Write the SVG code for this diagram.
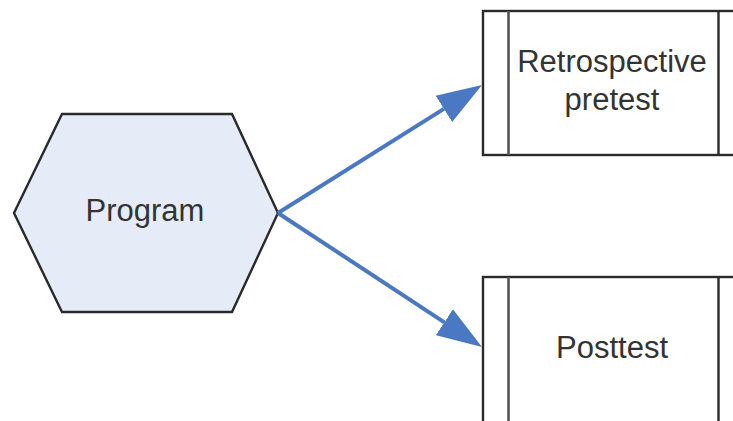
<svg xmlns="http://www.w3.org/2000/svg" width="733" height="421" viewBox="0 0 733 421">
  <style>
    .shape { stroke: #2a2a2a; stroke-width: 2.4; }
    .hex { fill: #e6ecf7; }
    .box { fill: #ffffff; }
    .rule { stroke: #555555; stroke-width: 2.6; }
    .label { font-family: "Liberation Sans", Arial, sans-serif; font-size: 31px; fill: #333333; text-anchor: middle; }
    .conn { stroke: #4a78c2; stroke-width: 4; fill: none; }
  </style>
  <defs>
    <marker id="head" markerUnits="userSpaceOnUse" markerWidth="46" markerHeight="32" viewBox="0 -16 46 32" refX="0" refY="0" orient="auto">
      <path d="M0,-15.5 L45,0 L0,15.5 z" fill="#4a78c2"/>
    </marker>
  </defs>
  <rect width="733" height="421" fill="#ffffff"/>

  <g id="program">
    <polygon class="shape hex" points="62,114 232,114 278,213 232,312 62,312 14,213"/>
    <text class="label" x="145" y="221">Program</text>
  </g>

  <g id="retrospective-pretest">
    <rect class="shape box" x="483" y="11" width="262" height="144"/>
    <line class="rule" x1="508.5" y1="11" x2="508.5" y2="155"/>
    <line class="shape" x1="718.5" y1="11" x2="718.5" y2="155"/>
    <text class="label" x="612" y="72">Retrospective</text>
    <text class="label" x="612" y="110">pretest</text>
  </g>

  <g id="posttest">
    <rect class="shape box" x="483" y="277" width="262" height="160"/>
    <line class="rule" x1="508.5" y1="277" x2="508.5" y2="421"/>
    <line class="shape" x1="718.5" y1="277" x2="718.5" y2="421"/>
    <text class="label" x="612" y="358">Posttest</text>
  </g>

  <g id="connectors">
    <line class="conn" x1="278" y1="213" x2="443.9" y2="108.9" marker-end="url(#head)"/>
    <line class="conn" x1="278" y1="213" x2="444.4" y2="322.3" marker-end="url(#head)"/>
  </g>
</svg>
